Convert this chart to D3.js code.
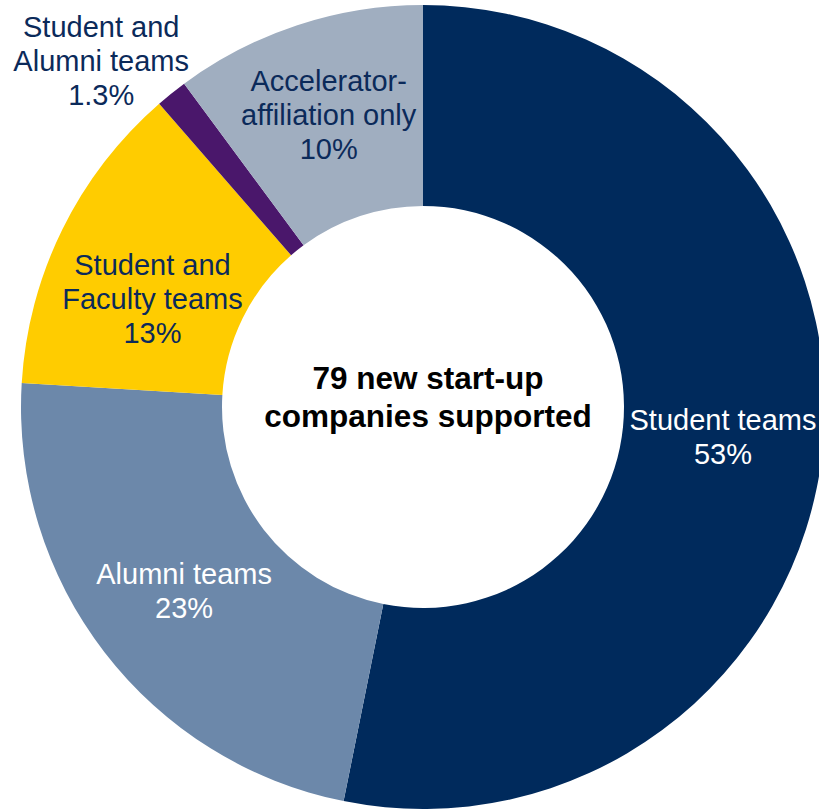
<!DOCTYPE html>
<html>
<head>
<meta charset="utf-8">
<script src="https://cdn.jsdelivr.net/npm/d3@7"></script>
<style>
  html, body { margin: 0; padding: 0; background: #ffffff; }
  svg { display: block; }
  text { font-family: "Liberation Sans", Arial, sans-serif; }
</style>
</head>
<body>
<svg id="chart" width="819" height="810"></svg>
<script>
// Data (companies out of 79)
const categories = ["Student teams", "Alumni teams", "Student and Faculty teams", "Student and Alumni teams", "Accelerator-affiliation only"];
const counts = [42, 18, 10, 1, 8];
const percentLabels = ["53%", "23%", "13%", "1.3%", "10%"];
const labelLines = [
  ["Student teams"],
  ["Alumni teams"],
  ["Student and", "Faculty teams"],
  ["Student and", "Alumni teams"],
  ["Accelerator-", "affiliation only"]
];
const colors = ["#002A5C", "#6C88AA", "#FFCC00", "#4A176B", "#A0AEC0"];
const textColors = ["#ffffff", "#ffffff", "#0B2A5A", "#0B2A5A", "#0B2A5A"];
const centerTitle = ["79 new start-up", "companies supported"];

const width = 819, height = 810;
const cx = 423, cy = 407;
const outerR = 402, innerR = 201;
const fontSize = 29, lineH = 34;

const svg = d3.select("#chart");
const g = svg.append("g").attr("transform", `translate(${cx},${cy})`);

const data = categories.map((c, i) => ({ name: c, value: counts[i], i }));
const pie = d3.pie().value(d => d.value).sort(null);
const arcs = pie(data);
const arc = d3.arc().innerRadius(innerR).outerRadius(outerR);

g.selectAll("path.slice")
  .data(arcs)
  .join("path")
  .attr("class", "slice")
  .attr("d", arc)
  .attr("fill", d => colors[d.data.i]);

// label placement: centroid plus small manual adjustment (in px) per label
const labelAdjust = [[0, 0], [0, 0], [0, 25], [-25, 24], [0, -6]];
const outsideLabel = [false, false, false, true, false];
const outArc = d3.arc().innerRadius(outerR * 1.18).outerRadius(outerR * 1.18);

arcs.forEach((a) => {
  const i = a.data.i;
  let [x, y] = outsideLabel[i] ? outArc.centroid(a) : arc.centroid(a);
  x += labelAdjust[i][0];
  y += labelAdjust[i][1];
  const lines = labelLines[i].concat([percentLabels[i]]);
  const n = lines.length;
  const t = g.append("text")
    .attr("text-anchor", "middle")
    .attr("font-size", fontSize)
    .attr("fill", textColors[i]);
  lines.forEach((ln, j) => {
    t.append("tspan")
      .attr("x", x)
      .attr("y", y + (j - (n - 1) / 2) * lineH + fontSize * 0.36)
      .text(ln);
  });
});

// center title
const ct = g.append("text")
  .attr("text-anchor", "middle")
  .attr("font-size", 31.5)
  .attr("font-weight", "bold")
  .attr("fill", "#000000");
centerTitle.forEach((ln, j) => {
  ct.append("tspan")
    .attr("x", 5)
    .attr("y", (j - 0.5) * 38 + 1)
    .text(ln);
});
</script>
</body>
</html>
